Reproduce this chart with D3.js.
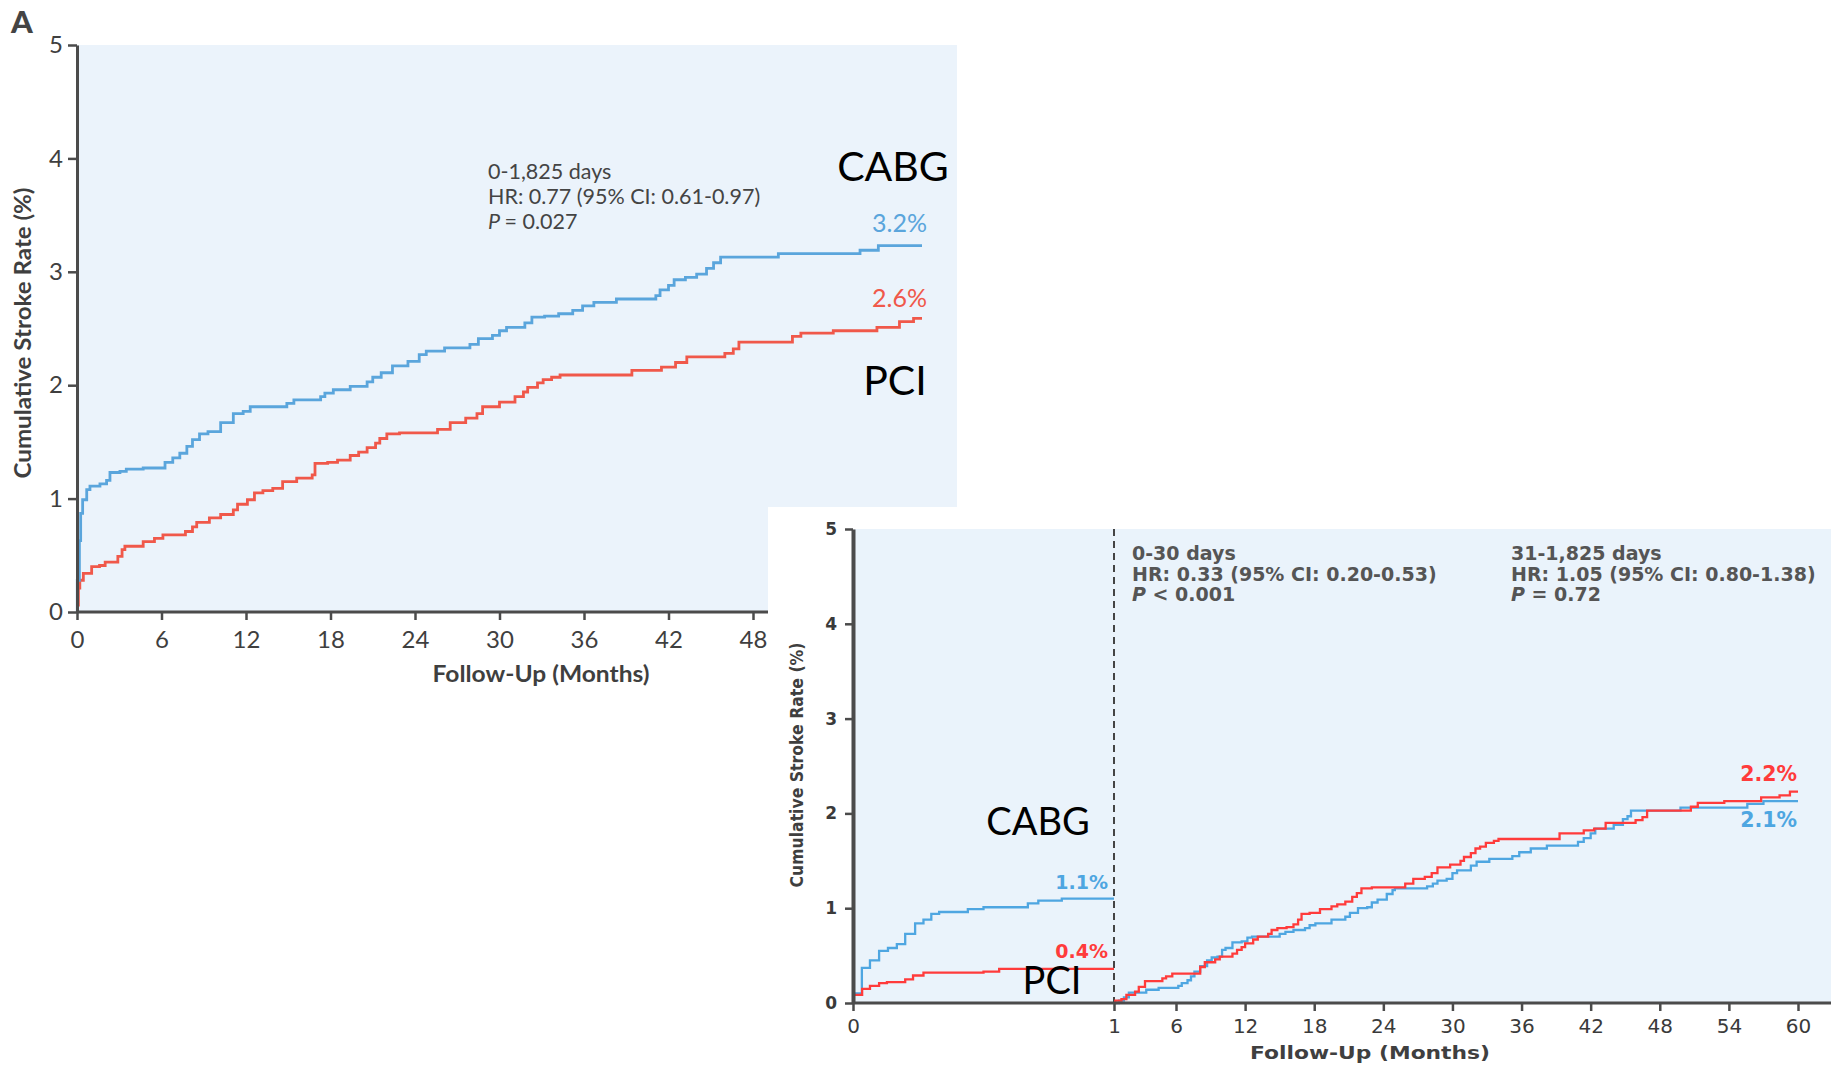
<!DOCTYPE html>
<meta charset="utf-8">
<style>
  body { margin: 0; background: #fff; }
  svg { display: block; }
</style>
<body>
<script src="https://d3js.org/d3.v7.min.js"></script>
<script>

// ---- data: [month, cumulative stroke rate %] ----
var yTicks = [0, 1, 2, 3, 4, 5];
var topXTicks = [0, 6, 12, 18, 24, 30, 36, 42, 48];
var bottomXTicks = [0, 1, 6, 12, 18, 24, 30, 36, 42, 48, 54, 60];

var topCabg = [[0,0],[0.02,0.28],[0.17,0.63],[0.26,0.87],[0.4,0.99],[0.69,1.08],[0.92,1.11],[1.63,1.13],
  [2.1,1.16],[2.34,1.23],[3.05,1.24],[3.5,1.26],[4.7,1.27],[6.25,1.32],[6.8,1.36],[7.3,1.40],[7.8,1.46],
  [8.2,1.52],[8.7,1.57],[9.3,1.59],[10.2,1.67],[11.1,1.75],[11.8,1.77],[12.3,1.81],[14.9,1.84],[15.4,1.87],
  [17.3,1.90],[17.6,1.93],[18.2,1.96],[19.4,1.99],[20.6,2.03],[21.0,2.07],[21.6,2.11],[22.4,2.17],[23.5,2.21],
  [24.3,2.27],[24.8,2.30],[26.1,2.33],[27.9,2.36],[28.5,2.41],[29.5,2.44],[30.0,2.48],[30.5,2.51],[31.8,2.55],
  [32.3,2.60],[33.2,2.61],[34.2,2.63],[35.2,2.66],[35.9,2.70],[36.7,2.73],[38.3,2.76],[41.1,2.79],[41.4,2.84],
  [42.0,2.88],[42.4,2.93],[43.2,2.95],[44.0,2.98],[44.7,3.03],[45.2,3.08],[45.7,3.13],[49.8,3.16],[55.6,3.19],
  [56.9,3.23],[60,3.23]];

var topPci = [[0,0.06],[0.1,0.21],[0.2,0.28],[0.45,0.34],[1.04,0.40],[1.6,0.41],[2.0,0.44],[2.9,0.49],
  [3.2,0.55],[3.4,0.58],[4.7,0.62],[5.5,0.65],[6.1,0.68],[7.7,0.71],[8.2,0.75],[8.5,0.79],[9.4,0.83],
  [10.2,0.86],[11.1,0.90],[11.4,0.95],[12.1,0.99],[12.6,1.05],[13.2,1.07],[13.9,1.09],[14.6,1.15],[15.6,1.18],
  [16.7,1.21],[16.9,1.31],[17.8,1.32],[18.5,1.34],[19.4,1.38],[20.0,1.41],[20.6,1.45],[21.2,1.49],[21.5,1.53],
  [22.0,1.57],[22.9,1.58],[25.6,1.61],[26.5,1.67],[27.6,1.71],[28.4,1.75],[28.8,1.81],[30.0,1.85],[31.1,1.90],
  [31.7,1.94],[32.0,1.98],[32.7,2.02],[33.1,2.05],[33.7,2.07],[34.3,2.09],[39.4,2.13],[41.5,2.16],[42.5,2.20],
  [43.3,2.25],[46.0,2.28],[46.6,2.32],[47.0,2.38],[50.8,2.43],[51.4,2.46],[53.7,2.48],[56.8,2.51],[58.4,2.56],
  [59.4,2.59],[60,2.59]];

var earlyCabg = [[0,0.10],[0.034,0.37],[0.065,0.45],[0.1,0.55],[0.134,0.58],[0.168,0.62],[0.2,0.73],
  [0.238,0.84],[0.27,0.88],[0.3,0.94],[0.33,0.96],[0.44,0.99],[0.5,1.01],[0.67,1.05],[0.71,1.08],[0.8,1.10],[1,1.10]];

var earlyPci = [[0,0.085],[0.035,0.15],[0.065,0.18],[0.1,0.21],[0.13,0.22],[0.2,0.25],[0.23,0.29],
  [0.27,0.32],[0.5,0.33],[0.56,0.36],[1,0.36]];

var lateCabg = [[1,0],[1.4,0.025],[1.8,0.06],[2.2,0.11],[3.6,0.14],[4.6,0.16],[6.2,0.18],[6.5,0.21],[7.0,0.24],
  [7.3,0.28],[7.6,0.33],[8.1,0.39],[8.7,0.45],[9.1,0.48],[9.6,0.49],[10.0,0.56],[10.3,0.58],[10.9,0.64],
  [11.7,0.65],[12.2,0.69],[12.6,0.70],[15.0,0.73],[15.5,0.75],[16.2,0.77],[17.2,0.79],[17.6,0.82],[18.1,0.84],
  [19.5,0.88],[20.7,0.91],[21.1,0.95],[21.8,1.00],[22.6,1.01],[23.0,1.06],[23.5,1.09],[24.3,1.15],[24.8,1.19],
  [25.0,1.21],[27.8,1.23],[28.3,1.26],[28.7,1.29],[29.5,1.31],[30.0,1.37],[30.4,1.40],[31.6,1.45],[32.1,1.49],
  [33.2,1.52],[35.2,1.55],[35.8,1.59],[36.8,1.63],[38.2,1.66],[40.9,1.70],[41.4,1.74],[42.0,1.79],[42.4,1.84],
  [44.0,1.88],[44.8,1.94],[45.2,1.97],[45.5,2.03],[49.8,2.06],[55.6,2.10],[57.0,2.13],[60,2.13]];

var latePci = [[1,0],[1.1,0.025],[1.6,0.04],[2.0,0.085],[2.7,0.12],[3.0,0.17],[3.5,0.23],[4.9,0.26],[5.2,0.28],
  [5.7,0.31],[8.1,0.38],[8.5,0.43],[9.4,0.46],[9.8,0.49],[10.9,0.52],[11.3,0.56],[11.7,0.59],[12.0,0.63],
  [12.7,0.67],[13.1,0.70],[14.0,0.73],[14.3,0.77],[14.8,0.79],[15.6,0.80],[16.2,0.83],[16.6,0.88],[16.9,0.94],
  [17.6,0.95],[18.5,0.99],[19.5,1.02],[20.0,1.04],[20.7,1.07],[21.3,1.12],[21.7,1.16],[22.1,1.21],[23.0,1.22],
  [25.9,1.26],[26.6,1.31],[27.6,1.33],[28.2,1.37],[28.7,1.43],[29.8,1.46],[30.7,1.50],[31.0,1.54],[31.6,1.58],
  [32.0,1.63],[32.4,1.65],[32.9,1.69],[33.6,1.71],[34.0,1.73],[39.3,1.79],[41.4,1.82],[42.3,1.84],[43.3,1.90],
  [45.9,1.93],[46.5,1.96],[46.9,2.03],[50.7,2.07],[51.3,2.11],[53.6,2.13],[56.8,2.17],[58.4,2.19],[59.3,2.23],
  [60,2.23]];

var topStats = ["0-1,825 days", "HR: 0.77 (95% CI: 0.61-0.97)", "= 0.027"];
var earlyStats = ["0-30 days", "HR: 0.33 (95% CI: 0.20-0.53)", "< 0.001"];
var lateStats = ["31-1,825 days", "HR: 1.05 (95% CI: 0.80-1.38)", "= 0.72"];

// ---- colours ----
var topBlue = "#5aa5dc", topRed = "#f0584a";
var botBlue = "#4ea6e1", botRed = "#ff3b3b";
var panelBg = "#ebf3fb", axisCol = "#4b4b4b";

var topFont = "Lato, 'Open Sans', sans-serif";
var botFont = "'DejaVu Sans', sans-serif";

var W = 1837, H = 1065;
var svg = d3.select("body").append("svg").attr("width", W).attr("height", H);

// ================= top panel =================
var xTop = d3.scaleLinear().domain([0, 60]).range([77, 922]);
var yTop = d3.scaleLinear().domain([0, 5]).range([612, 45]);

svg.append("rect")
    .attr("x", xTop(0)).attr("y", yTop(5))
    .attr("width", 957 - xTop(0)).attr("height", yTop(0) - yTop(5))
    .attr("fill", panelBg);

var lineTop = d3.line()
    .x(function(d) { return xTop(d[0]); })
    .y(function(d) { return yTop(d[1]); })
    .curve(d3.curveStepAfter);

svg.append("path").datum(topPci).attr("d", lineTop)
    .attr("fill", "none").attr("stroke", topRed).attr("stroke-width", 2.8);
svg.append("path").datum(topCabg).attr("d", lineTop)
    .attr("fill", "none").attr("stroke", topBlue).attr("stroke-width", 2.8);

var gyTop = svg.append("g")
    .attr("transform", "translate(" + xTop(0) + ",0)")
    .call(d3.axisLeft(yTop).tickValues(yTicks).tickFormat(d3.format("d"))
      .tickSize(9).tickSizeOuter(0).tickPadding(5));
var gxTop = svg.append("g")
    .attr("transform", "translate(0," + yTop(0) + ")")
    .call(d3.axisBottom(xTop).tickValues(topXTicks).tickSize(8).tickSizeOuter(0).tickPadding(11));
// the x axis runs on under the inset, which hides it
gxTop.select(".domain").attr("d", "M" + xTop(0) + ",0H" + xTop(60));

[gyTop, gxTop].forEach(function(g) {
  g.select(".domain").attr("stroke", axisCol).attr("stroke-width", 3);
  g.selectAll(".tick line").attr("stroke", axisCol).attr("stroke-width", 2.5);
  g.selectAll(".tick text").attr("font-family", topFont)
      .attr("font-size", 24).attr("fill", "#3f3f3f");
});

svg.append("text")
    .attr("x", 541).attr("y", 682)
    .attr("text-anchor", "middle")
    .attr("font-family", topFont).attr("font-weight", 700)
    .attr("font-size", 22).attr("fill", "#3f3f3f")
    .attr("textLength", 217).attr("lengthAdjust", "spacingAndGlyphs")
    .text("Follow-Up (Months)");

svg.append("text")
    .attr("transform", "translate(31,333) rotate(-90)")
    .attr("text-anchor", "middle")
    .attr("font-family", topFont).attr("font-weight", 700)
    .attr("font-size", 23.5).attr("fill", "#3f3f3f")
    .attr("textLength", 291).attr("lengthAdjust", "spacingAndGlyphs")
    .text("Cumulative Stroke Rate (%)");

svg.append("text")
    .attr("x", 11).attr("y", 33)
    .attr("font-family", topFont).attr("font-weight", 900)
    .attr("font-size", 31).attr("fill", "#444")
    .text("A");

var topNote = svg.append("g")
    .attr("font-family", topFont).attr("font-size", 21.5).attr("fill", "#444");
topStats.forEach(function(s, i) {
  var t = topNote.append("text").attr("x", 488).attr("y", 179 + i * 25);
  if (i === 2) t.append("tspan").attr("font-style", "italic").text("P ");
  t.append("tspan").text(s);
});

svg.append("text").attr("x", 893).attr("y", 181)
    .attr("text-anchor", "middle").attr("font-family", topFont)
    .attr("font-size", 41).attr("fill", "#000").text("CABG");
svg.append("text").attr("x", 895).attr("y", 395)
    .attr("text-anchor", "middle").attr("font-family", topFont)
    .attr("font-size", 41).attr("fill", "#000").text("PCI");

svg.append("text")
    .attr("x", xTop(60) + 5).attr("y", yTop(topCabg[topCabg.length - 1][1]) - 14)
    .attr("text-anchor", "end").attr("font-family", topFont)
    .attr("font-size", 25).attr("fill", topBlue).text("3.2%");
svg.append("text")
    .attr("x", xTop(60) + 5).attr("y", yTop(topPci[topPci.length - 1][1]) - 11)
    .attr("text-anchor", "end").attr("font-family", topFont)
    .attr("font-size", 25).attr("fill", topRed).text("2.6%");

// ================= bottom panel (overlaid inset) =================
svg.append("rect")
    .attr("x", 768).attr("y", 507)
    .attr("width", W - 768).attr("height", H - 507)
    .attr("fill", "#fff");

var xBot = d3.scaleLinear().domain([0, 1, 6, 60]).range([853, 1114, 1176, 1798]);
var yBot = d3.scaleLinear().domain([0, 5]).range([1003, 529]);
var botRight = 1831;

svg.append("rect")
    .attr("x", xBot(0)).attr("y", yBot(5))
    .attr("width", botRight - xBot(0)).attr("height", yBot(0) - yBot(5))
    .attr("fill", "#eaf3fb");

svg.append("line")
    .attr("x1", xBot(1)).attr("x2", xBot(1))
    .attr("y1", yBot(5)).attr("y2", yBot(0))
    .attr("stroke", "#444").attr("stroke-width", 2).attr("stroke-dasharray", "7,5");

var lineBot = d3.line()
    .x(function(d) { return xBot(d[0]); })
    .y(function(d) { return yBot(d[1]); })
    .curve(d3.curveStepAfter);

[[earlyCabg, botBlue], [earlyPci, botRed], [lateCabg, botBlue], [latePci, botRed]].forEach(function(s) {
  svg.append("path").datum(s[0]).attr("d", lineBot)
      .attr("fill", "none").attr("stroke", s[1]).attr("stroke-width", 2.3);
});

var gyBot = svg.append("g")
    .attr("transform", "translate(" + xBot(0) + ",0)")
    .call(d3.axisLeft(yBot).tickValues(yTicks).tickFormat(d3.format("d"))
      .tickSize(8).tickSizeOuter(0).tickPadding(8));
var gxBot = svg.append("g")
    .attr("transform", "translate(0," + yBot(0) + ")")
    .call(d3.axisBottom(xBot).tickValues(bottomXTicks).tickSize(8).tickSizeOuter(0).tickPadding(8));
gxBot.select(".domain").attr("d", "M" + xBot(0) + ",0H" + botRight);

gyBot.select(".domain").attr("stroke", axisCol).attr("stroke-width", 4);
gxBot.select(".domain").attr("stroke", axisCol).attr("stroke-width", 3);
[gyBot, gxBot].forEach(function(g) {
  g.selectAll(".tick line").attr("stroke", axisCol).attr("stroke-width", 2.5);
  g.selectAll(".tick text").attr("font-family", botFont).attr("fill", "#3a3a3a");
});
gyBot.selectAll(".tick text").attr("font-size", 17).attr("font-weight", 700);
gxBot.selectAll(".tick text").attr("font-size", 20);

svg.append("text")
    .attr("x", 1370).attr("y", 1059)
    .attr("text-anchor", "middle")
    .attr("font-family", botFont).attr("font-weight", 700)
    .attr("font-size", 18).attr("fill", "#3f3f3f")
    .attr("textLength", 240).attr("lengthAdjust", "spacingAndGlyphs")
    .text("Follow-Up (Months)");

svg.append("text")
    .attr("transform", "translate(803,765) rotate(-90)")
    .attr("text-anchor", "middle")
    .attr("font-family", botFont).attr("font-weight", 700)
    .attr("font-size", 18).attr("fill", "#3f3f3f")
    .attr("textLength", 245).attr("lengthAdjust", "spacingAndGlyphs")
    .text("Cumulative Stroke Rate (%)");

function note(lines, x) {
  var g = svg.append("g")
      .attr("font-family", botFont).attr("font-weight", 700)
      .attr("font-size", 19).attr("fill", "#555");
  lines.forEach(function(s, i) {
    var t = g.append("text").attr("x", x).attr("y", 560 + i * 20.5);
    if (i === 2) t.append("tspan").attr("font-style", "italic").text("P ");
    t.append("tspan").text(s);
  });
}
note(earlyStats, 1132);
note(lateStats, 1511);

svg.append("text").attr("x", 1038).attr("y", 835)
    .attr("text-anchor", "middle").attr("font-family", topFont)
    .attr("font-size", 38).attr("fill", "#000").text("CABG");

function endLabel(series, color, txt, size, dx, dy) {
  var last = series[series.length - 1];
  svg.append("text")
      .attr("x", xBot(last[0]) + dx).attr("y", yBot(last[1]) + dy)
      .attr("text-anchor", "end").attr("font-family", botFont).attr("font-weight", 700)
      .attr("font-size", size).attr("fill", color).text(txt);
}
endLabel(earlyCabg, botBlue, "1.1%", 19, -6, -10);
endLabel(earlyPci, botRed, "0.4%", 19, -6, -11);
endLabel(latePci, botRed, "2.2%", 20.5, -1, -11);
endLabel(lateCabg, botBlue, "2.1%", 20.5, -1, 26);

svg.append("text").attr("x", 1052).attr("y", 994)
    .attr("text-anchor", "middle").attr("font-family", topFont)
    .attr("font-size", 38).attr("fill", "#000").text("PCI");

</script>
</body>
